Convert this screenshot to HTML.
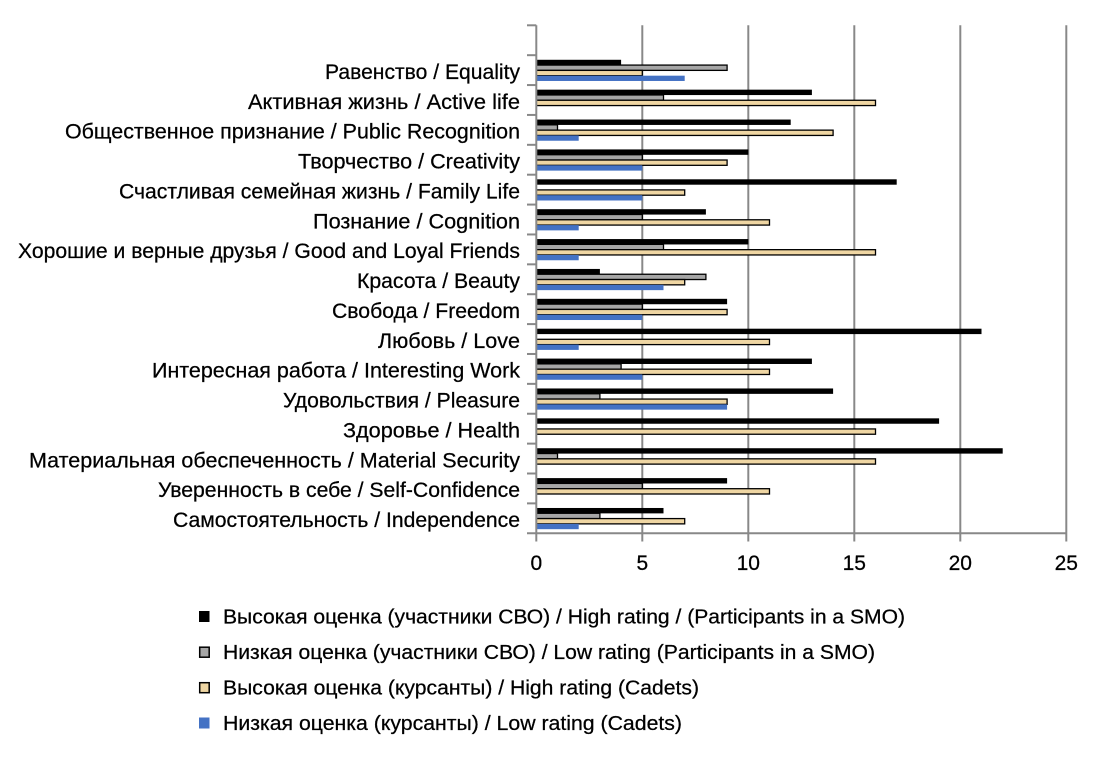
<!DOCTYPE html>
<html>
<head>
<meta charset="utf-8">
<style>
  html, body { margin: 0; padding: 0; background: #ffffff; }
  svg { display: block; }
  text { font-family: "Liberation Sans", "DejaVu Sans", sans-serif; fill: #000; stroke: #000; stroke-width: 0.25; }
</style>
</head>
<body>
<svg width="1093" height="760" viewBox="0 0 1093 760" xmlns="http://www.w3.org/2000/svg">
  <rect x="0" y="0" width="1093" height="760" fill="#ffffff"/>

  <g stroke="#888888" stroke-width="2">
    <line x1="642.3" y1="25.3" x2="642.3" y2="541.5"/>
    <line x1="748.3" y1="25.3" x2="748.3" y2="541.5"/>
    <line x1="854.3" y1="25.3" x2="854.3" y2="541.5"/>
    <line x1="960.3" y1="25.3" x2="960.3" y2="541.5"/>
    <line x1="1066.3" y1="25.3" x2="1066.3" y2="541.5"/>
  </g>

  <g>
    <rect x="536.3" y="59.78" width="84.8" height="5.4" fill="#000"/>
    <rect x="536.3" y="65.08" width="190.8" height="5.3" fill="#a6a6a6" stroke="#000" stroke-width="1.3"/>
    <rect x="536.3" y="70.38" width="106" height="5.3" fill="#efd6a3" stroke="#000" stroke-width="1.3"/>
    <rect x="536.3" y="75.68" width="148.4" height="5.3" fill="#4472c4"/>

    <rect x="536.3" y="89.66" width="275.6" height="5.4" fill="#000"/>
    <rect x="536.3" y="94.96" width="127.2" height="5.3" fill="#a6a6a6" stroke="#000" stroke-width="1.3"/>
    <rect x="536.3" y="100.26" width="339.2" height="5.3" fill="#efd6a3" stroke="#000" stroke-width="1.3"/>

    <rect x="536.3" y="119.54" width="254.4" height="5.4" fill="#000"/>
    <rect x="536.3" y="124.84" width="21.2" height="5.3" fill="#a6a6a6" stroke="#000" stroke-width="1.3"/>
    <rect x="536.3" y="130.14" width="296.8" height="5.3" fill="#efd6a3" stroke="#000" stroke-width="1.3"/>
    <rect x="536.3" y="135.44" width="42.4" height="5.3" fill="#4472c4"/>

    <rect x="536.3" y="149.42" width="212" height="5.4" fill="#000"/>
    <rect x="536.3" y="154.72" width="106" height="5.3" fill="#a6a6a6" stroke="#000" stroke-width="1.3"/>
    <rect x="536.3" y="160.02" width="190.8" height="5.3" fill="#efd6a3" stroke="#000" stroke-width="1.3"/>
    <rect x="536.3" y="165.32" width="106" height="5.3" fill="#4472c4"/>

    <rect x="536.3" y="179.3" width="360.4" height="5.4" fill="#000"/>
    <rect x="536.3" y="189.9" width="148.4" height="5.3" fill="#efd6a3" stroke="#000" stroke-width="1.3"/>
    <rect x="536.3" y="195.2" width="106" height="5.3" fill="#4472c4"/>

    <rect x="536.3" y="209.18" width="169.6" height="5.4" fill="#000"/>
    <rect x="536.3" y="214.48" width="106" height="5.3" fill="#a6a6a6" stroke="#000" stroke-width="1.3"/>
    <rect x="536.3" y="219.78" width="233.2" height="5.3" fill="#efd6a3" stroke="#000" stroke-width="1.3"/>
    <rect x="536.3" y="225.08" width="42.4" height="5.3" fill="#4472c4"/>

    <rect x="536.3" y="239.06" width="212" height="5.4" fill="#000"/>
    <rect x="536.3" y="244.36" width="127.2" height="5.3" fill="#a6a6a6" stroke="#000" stroke-width="1.3"/>
    <rect x="536.3" y="249.66" width="339.2" height="5.3" fill="#efd6a3" stroke="#000" stroke-width="1.3"/>
    <rect x="536.3" y="254.96" width="42.4" height="5.3" fill="#4472c4"/>

    <rect x="536.3" y="268.94" width="63.6" height="5.4" fill="#000"/>
    <rect x="536.3" y="274.24" width="169.6" height="5.3" fill="#a6a6a6" stroke="#000" stroke-width="1.3"/>
    <rect x="536.3" y="279.54" width="148.4" height="5.3" fill="#efd6a3" stroke="#000" stroke-width="1.3"/>
    <rect x="536.3" y="284.84" width="127.2" height="5.3" fill="#4472c4"/>

    <rect x="536.3" y="298.82" width="190.8" height="5.4" fill="#000"/>
    <rect x="536.3" y="304.12" width="106" height="5.3" fill="#a6a6a6" stroke="#000" stroke-width="1.3"/>
    <rect x="536.3" y="309.42" width="190.8" height="5.3" fill="#efd6a3" stroke="#000" stroke-width="1.3"/>
    <rect x="536.3" y="314.72" width="106" height="5.3" fill="#4472c4"/>

    <rect x="536.3" y="328.7" width="445.2" height="5.4" fill="#000"/>
    <rect x="536.3" y="339.3" width="233.2" height="5.3" fill="#efd6a3" stroke="#000" stroke-width="1.3"/>
    <rect x="536.3" y="344.6" width="42.4" height="5.3" fill="#4472c4"/>

    <rect x="536.3" y="358.58" width="275.6" height="5.4" fill="#000"/>
    <rect x="536.3" y="363.88" width="84.8" height="5.3" fill="#a6a6a6" stroke="#000" stroke-width="1.3"/>
    <rect x="536.3" y="369.18" width="233.2" height="5.3" fill="#efd6a3" stroke="#000" stroke-width="1.3"/>
    <rect x="536.3" y="374.48" width="106" height="5.3" fill="#4472c4"/>

    <rect x="536.3" y="388.46" width="296.8" height="5.4" fill="#000"/>
    <rect x="536.3" y="393.76" width="63.6" height="5.3" fill="#a6a6a6" stroke="#000" stroke-width="1.3"/>
    <rect x="536.3" y="399.06" width="190.8" height="5.3" fill="#efd6a3" stroke="#000" stroke-width="1.3"/>
    <rect x="536.3" y="404.36" width="190.8" height="5.3" fill="#4472c4"/>

    <rect x="536.3" y="418.34" width="402.8" height="5.4" fill="#000"/>
    <rect x="536.3" y="428.94" width="339.2" height="5.3" fill="#efd6a3" stroke="#000" stroke-width="1.3"/>

    <rect x="536.3" y="448.22" width="466.4" height="5.4" fill="#000"/>
    <rect x="536.3" y="453.52" width="21.2" height="5.3" fill="#a6a6a6" stroke="#000" stroke-width="1.3"/>
    <rect x="536.3" y="458.82" width="339.2" height="5.3" fill="#efd6a3" stroke="#000" stroke-width="1.3"/>

    <rect x="536.3" y="478.1" width="190.8" height="5.4" fill="#000"/>
    <rect x="536.3" y="483.4" width="106" height="5.3" fill="#a6a6a6" stroke="#000" stroke-width="1.3"/>
    <rect x="536.3" y="488.7" width="233.2" height="5.3" fill="#efd6a3" stroke="#000" stroke-width="1.3"/>

    <rect x="536.3" y="507.98" width="127.2" height="5.4" fill="#000"/>
    <rect x="536.3" y="513.28" width="63.6" height="5.3" fill="#a6a6a6" stroke="#000" stroke-width="1.3"/>
    <rect x="536.3" y="518.58" width="148.4" height="5.3" fill="#efd6a3" stroke="#000" stroke-width="1.3"/>
    <rect x="536.3" y="523.88" width="42.4" height="5.3" fill="#4472c4"/>
  </g>

  <g stroke="#888888" stroke-width="2">
    <line x1="536.3" y1="25.3" x2="536.3" y2="541.5"/>
    <line x1="527" y1="533.3" x2="1066.3" y2="533.3"/>
    <line x1="527" y1="25.3" x2="536.3" y2="25.3"/>
    <line x1="527" y1="55.18" x2="536.3" y2="55.18"/>
    <line x1="527" y1="85.06" x2="536.3" y2="85.06"/>
    <line x1="527" y1="114.94" x2="536.3" y2="114.94"/>
    <line x1="527" y1="144.82" x2="536.3" y2="144.82"/>
    <line x1="527" y1="174.7" x2="536.3" y2="174.7"/>
    <line x1="527" y1="204.58" x2="536.3" y2="204.58"/>
    <line x1="527" y1="234.46" x2="536.3" y2="234.46"/>
    <line x1="527" y1="264.34" x2="536.3" y2="264.34"/>
    <line x1="527" y1="294.22" x2="536.3" y2="294.22"/>
    <line x1="527" y1="324.1" x2="536.3" y2="324.1"/>
    <line x1="527" y1="353.98" x2="536.3" y2="353.98"/>
    <line x1="527" y1="383.86" x2="536.3" y2="383.86"/>
    <line x1="527" y1="413.74" x2="536.3" y2="413.74"/>
    <line x1="527" y1="443.62" x2="536.3" y2="443.62"/>
    <line x1="527" y1="473.5" x2="536.3" y2="473.5"/>
    <line x1="527" y1="503.38" x2="536.3" y2="503.38"/>
  </g>

  <g font-size="21">
    <text x="325" y="78.9" textLength="195" lengthAdjust="spacingAndGlyphs">Равенство / Equality</text>
    <text x="248" y="108.76" textLength="272" lengthAdjust="spacingAndGlyphs">Активная жизнь / Active life</text>
    <text x="65" y="138.64" textLength="455" lengthAdjust="spacingAndGlyphs">Общественное признание / Public Recognition</text>
    <text x="298" y="168.52" textLength="222" lengthAdjust="spacingAndGlyphs">Творчество / Creativity</text>
    <text x="119" y="198.4" textLength="401" lengthAdjust="spacingAndGlyphs">Счастливая семейная жизнь / Family Life</text>
    <text x="313" y="228.28" textLength="207" lengthAdjust="spacingAndGlyphs">Познание / Cognition</text>
    <text x="18" y="258.16" textLength="502" lengthAdjust="spacingAndGlyphs">Хорошие и верные друзья / Good and Loyal Friends</text>
    <text x="357" y="288.04" textLength="163" lengthAdjust="spacingAndGlyphs">Красота / Beauty</text>
    <text x="332" y="317.92" textLength="188" lengthAdjust="spacingAndGlyphs">Свобода / Freedom</text>
    <text x="378" y="347.8" textLength="142" lengthAdjust="spacingAndGlyphs">Любовь / Love</text>
    <text x="152" y="377.68" textLength="368" lengthAdjust="spacingAndGlyphs">Интересная работа / Interesting Work</text>
    <text x="283" y="407.56" textLength="237" lengthAdjust="spacingAndGlyphs">Удовольствия / Pleasure</text>
    <text x="343" y="437.44" textLength="177" lengthAdjust="spacingAndGlyphs">Здоровье / Health</text>
    <text x="29" y="467.32" textLength="491" lengthAdjust="spacingAndGlyphs">Материальная обеспеченность / Material Security</text>
    <text x="158" y="497.2" textLength="362" lengthAdjust="spacingAndGlyphs">Уверенность в себе / Self-Confidence</text>
    <text x="173" y="527.08" textLength="347" lengthAdjust="spacingAndGlyphs">Самостоятельность / Independence</text>
  </g>

  <g font-size="21" text-anchor="middle">
    <text x="536.3" y="570">0</text>
    <text x="642.3" y="570">5</text>
    <text x="748.3" y="570">10</text>
    <text x="854.3" y="570">15</text>
    <text x="960.3" y="570">20</text>
    <text x="1066.3" y="570">25</text>
  </g>

  <rect x="199" y="611" width="10.5" height="11" fill="#000"/>
  <rect x="199.7" y="647.2" width="9.5" height="10" fill="#a6a6a6" stroke="#000" stroke-width="1.5"/>
  <rect x="199.7" y="682.7" width="9.5" height="10" fill="#efd6a3" stroke="#000" stroke-width="1.5"/>
  <rect x="199" y="717.5" width="10.5" height="11" fill="#4472c4"/>
  <g font-size="20">
    <text x="223" y="623.5" textLength="682" lengthAdjust="spacingAndGlyphs">Высокая оценка (участники СВО) / High rating / (Participants in a SMO)</text>
    <text x="223" y="659" textLength="652" lengthAdjust="spacingAndGlyphs">Низкая оценка (участники СВО) / Low rating (Participants in a SMO)</text>
    <text x="223" y="694.5" textLength="476" lengthAdjust="spacingAndGlyphs">Высокая оценка (курсанты) / High rating (Cadets)</text>
    <text x="223" y="730" textLength="459" lengthAdjust="spacingAndGlyphs">Низкая оценка (курсанты) / Low rating (Cadets)</text>
  </g>
</svg>
</body>
</html>
